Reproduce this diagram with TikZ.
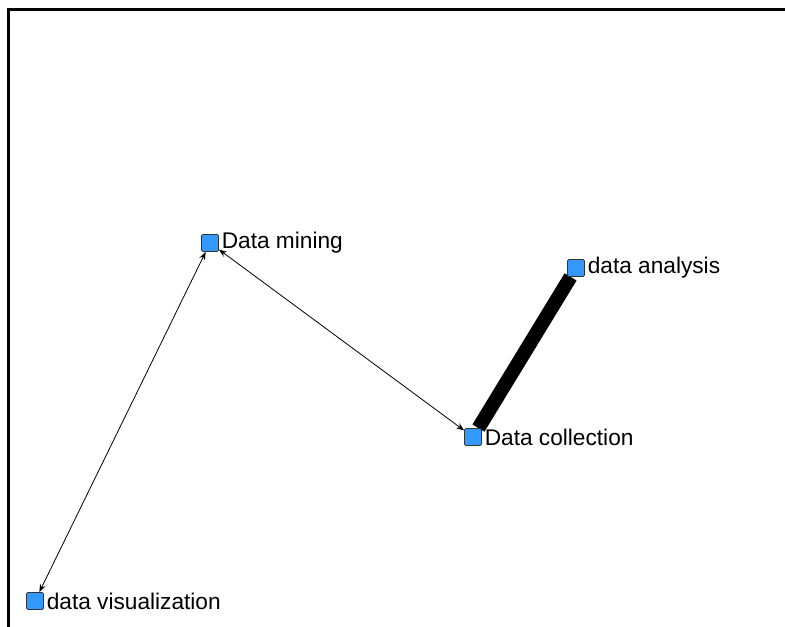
\documentclass[tikz,border=0pt]{standalone}
\usepackage{fontspec}
\setmainfont{Liberation Sans}
\usetikzlibrary{positioning,arrows.meta,backgrounds}
\definecolor{nodeblue}{HTML}{3399FF}

\tikzset{
    actor/.style={draw=black!80, fill=nodeblue, minimum size=12.75pt, inner sep=0pt, rounded corners=1pt, line width=0.6pt},
    actorlabel/.style={inner sep=2pt, font=\fontsize{17pt}{19pt}\selectfont},
    tie/.style={line width=0.6pt, {Stealth[length=6pt,width=4.5pt]}-{Stealth[length=6pt,width=4.5pt]}},
    strongtie/.style={line width=10.5pt}
}

\begin{document}
\begin{tikzpicture}[x=0.75pt, y=-0.75pt]
            % Canvas and frame
            \useasboundingbox (0,0) rectangle (785,627);
            \draw[line width=2pt] (8.5,627) -- (8.5,9.5) -- (785,9.5);

            % Actors
            \node[actor] (mining) at (210,243) {};
            \node[actor] (analysis) at (576,268) {};
            \node[actor] (collection) at (473,437) {};
            \node[actor] (visual) at (35,601) {};

            % Labels
            \node[actorlabel, right=0pt of mining] (miningtxt) {Data mining};
            \node[actorlabel, right=0pt of analysis] (analysistxt) {data analysis};
            \node[actorlabel, right=0pt of collection] (collectiontxt) {Data collection};
            \node[actorlabel, right=0pt of visual] (visualtxt) {data visualization};

            % Ties
            \begin{scope}[on background layer]
                \draw[strongtie] (analysis) -- (collection);
                \draw[tie] (mining) -- (collection);
                \draw[tie] (mining) -- (visual);
            \end{scope}
        \end{tikzpicture}
\end{document}
